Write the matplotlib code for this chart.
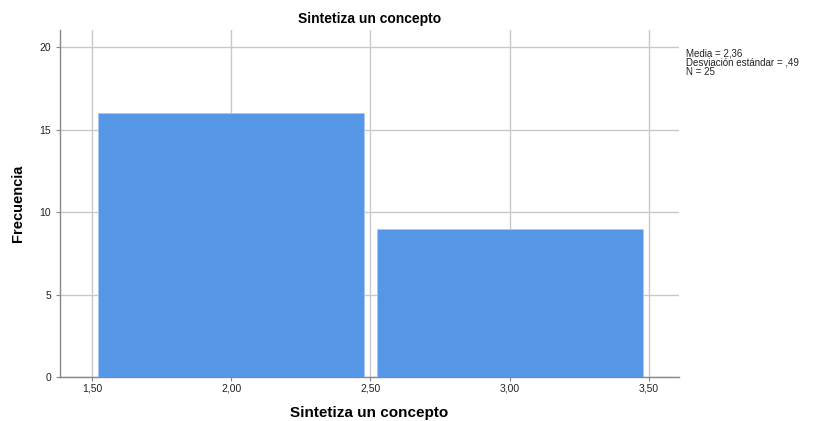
import matplotlib
matplotlib.use("Agg")
import matplotlib.pyplot as plt

plt.rcParams['font.family'] = ['Liberation Sans', 'DejaVu Sans']

bin_centers = [2.0, 3.0]
frequencies = [16, 9]
xticks = [1.5, 2.0, 2.5, 3.0, 3.5]
xtick_labels = ["1,50", "2,00", "2,50", "3,00", "3,50"]
yticks = [0, 5, 10, 15, 20]
title = "Sintetiza un concepto"
xlabel = "Sintetiza un concepto"
ylabel = "Frecuencia"
stats_text = "Media = 2,36\nDesviación estándar = ,49\nN = 25"

fig = plt.figure(figsize=(8.24, 4.21), dpi=100)
ax = fig.add_axes([0.0728, 0.1045, 0.7512, 0.8242])

ax.set_axisbelow(True)
ax.grid(True, color='#c8c8c8', linewidth=1.0)
ax.bar(bin_centers, frequencies, width=0.955, color='#5596E6',
       edgecolor='#a9c8f0', linewidth=0.6, zorder=3)

ax.set_xlim(1.385, 3.608)
ax.set_ylim(0, 21.03)
ax.set_xticks(xticks)
ax.set_xticklabels(xtick_labels)
ax.set_yticks(yticks)
ax.tick_params(axis='both', labelsize=7.5, colors='#222222', length=3, width=0.8)
ax.tick_params(axis='x', length=3, color='#888888', pad=2)
ax.tick_params(axis='y', color='#888888')

for s in ['top', 'right']:
    ax.spines[s].set_visible(False)
for s in ['left', 'bottom']:
    ax.spines[s].set_color('#888888')
    ax.spines[s].set_linewidth(1.0)

ax.set_title(title, fontsize=10, fontweight='bold', pad=5)
ax.set_xlabel(xlabel, fontsize=11, fontweight='bold', labelpad=8.5)
ax.set_ylabel(ylabel, fontsize=10.5, fontweight='bold', labelpad=10)

fig.text(686/824, 1 - 48/421, stats_text, fontsize=7, va='top', ha='left',
         linespacing=0.95, color='#222222')

fig.savefig("out.png", dpi=100)
